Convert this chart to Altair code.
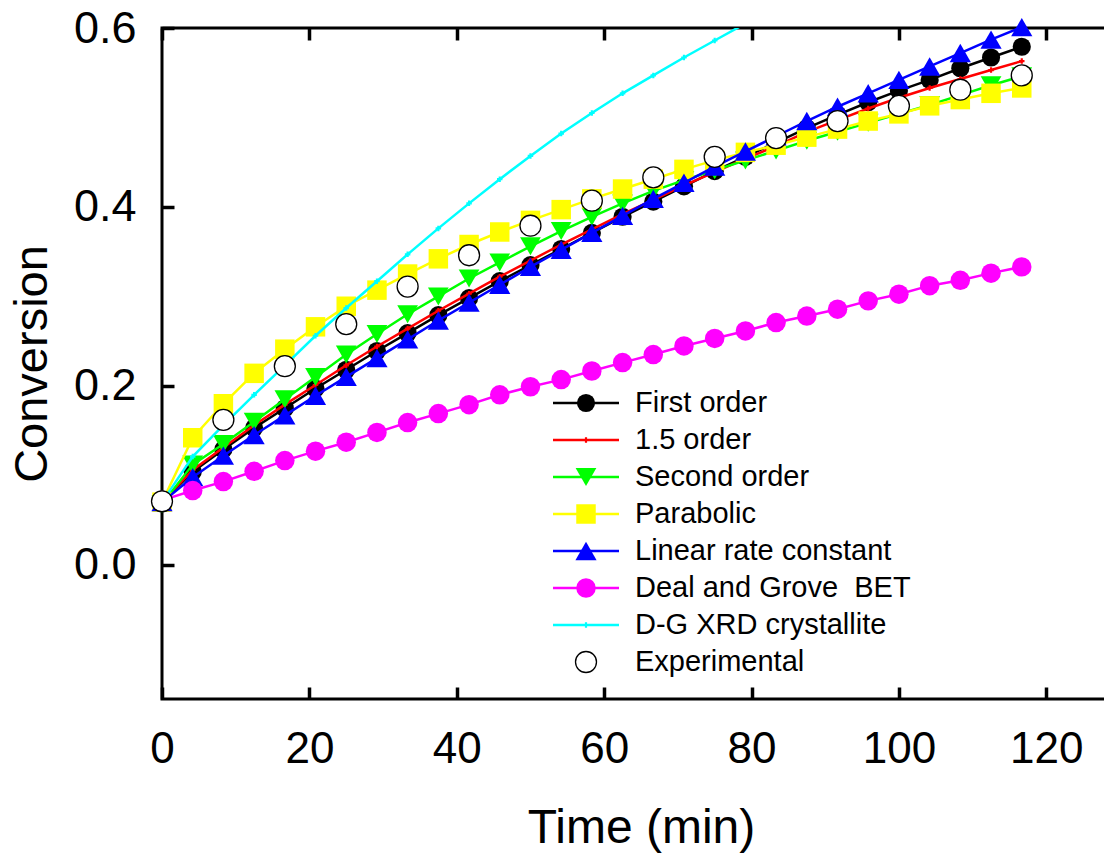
import altair as alt
import pandas as pd

# ---------------- data ----------------
TIME = [0, 4.17, 8.33, 12.5, 16.67, 20.83, 25, 29.17, 33.33, 37.5, 41.67, 45.83,
        50, 54.17, 58.33, 62.5, 66.67, 70.83, 75, 79.17, 83.33, 87.5, 91.67,
        95.83, 100, 104.17, 108.33, 112.5, 116.67]

FIRST_ORDER = [0.070, 0.104, 0.129, 0.153, 0.175, 0.197, 0.218, 0.239, 0.259, 0.279,
               0.298, 0.317, 0.335, 0.353, 0.371, 0.389, 0.406, 0.423, 0.440, 0.456,
               0.472, 0.488, 0.503, 0.517, 0.530, 0.542, 0.555, 0.567, 0.579]
ORDER_15 = [0.070, 0.106, 0.131, 0.156, 0.179, 0.201, 0.223, 0.244, 0.264, 0.284,
            0.303, 0.322, 0.340, 0.358, 0.375, 0.392, 0.408, 0.424, 0.439, 0.454,
            0.468, 0.484, 0.497, 0.510, 0.522, 0.533, 0.543, 0.553, 0.563]
SECOND_ORDER = [0.068, 0.112, 0.135, 0.160, 0.185, 0.210, 0.235, 0.258, 0.280, 0.300,
                0.320, 0.338, 0.356, 0.373, 0.389, 0.404, 0.418, 0.430, 0.441, 0.452,
                0.463, 0.474, 0.484, 0.494, 0.504, 0.514, 0.525, 0.536, 0.546]
PARABOLIC = [0.070, 0.142, 0.180, 0.214, 0.241, 0.266, 0.289, 0.307, 0.325, 0.342,
             0.358, 0.372, 0.385, 0.397, 0.409, 0.420, 0.431, 0.442, 0.452, 0.461,
             0.469, 0.478, 0.487, 0.496, 0.504, 0.513, 0.520, 0.527, 0.533]
LINEAR = [0.070, 0.098, 0.122, 0.145, 0.167, 0.189, 0.210, 0.231, 0.252, 0.273,
          0.293, 0.313, 0.333, 0.352, 0.371, 0.390, 0.409, 0.427, 0.445, 0.462,
          0.479, 0.496, 0.512, 0.527, 0.542, 0.557, 0.572, 0.587, 0.601]
DG_BET = [0.072, 0.083, 0.093, 0.1045, 0.1165, 0.127, 0.137, 0.148, 0.159, 0.169,
          0.179, 0.190, 0.199, 0.207, 0.2166, 0.226, 0.235, 0.2446, 0.253, 0.2614,
          0.2708, 0.278, 0.2857, 0.295, 0.3025, 0.312, 0.318, 0.326, 0.333]
DG_XRD = [0.070, 0.121, 0.156, 0.190, 0.223, 0.256, 0.287, 0.317, 0.347, 0.376,
          0.404, 0.431, 0.457, 0.482, 0.505, 0.527, 0.547, 0.567, 0.586, 0.605]

EXP_TIME = [0, 8.33, 16.67, 25, 33.33, 41.67, 50, 58.33, 66.67, 75, 83.33, 91.67,
            100, 108.33, 116.67]
EXPERIMENTAL = [0.071, 0.162, 0.222, 0.269, 0.311, 0.346, 0.379, 0.407, 0.433, 0.456,
                0.477, 0.496, 0.513, 0.531, 0.547]

X_TICKS = [0, 20, 40, 60, 80, 100, 120]
Y_TICKS = [0.0, 0.2, 0.4, 0.6]
X_MIN, X_MAX = 0, 130
Y_MIN, Y_MAX = -0.15, 0.6

SERIES = [
    # name, times, values, color, shape, size
    ("First order", TIME, FIRST_ORDER, "#000000", "circle", 330),
    ("1.5 order", TIME, ORDER_15, "#FF0000", "cross", 30),
    ("Second order", TIME, SECOND_ORDER, "#00FF00", "triangle-down", 430),
    ("Parabolic", TIME, PARABOLIC, "#FFFF00", "square", 380),
    ("Linear rate constant", TIME, LINEAR, "#0000FF", "triangle-up", 450),
    ("Deal and Grove\u00a0 BET", TIME, DG_BET, "#FF00FF", "circle", 380),
    ("D-G XRD crystallite", TIME[:len(DG_XRD)], DG_XRD, "#00FFFF", "cross", 30),
]

# ---------------- layout / style ----------------
W, H = 958, 671
FONT = "Liberation Sans, Arial, sans-serif"
TL = 12  # inner tick length

x_scale = alt.Scale(domain=[X_MIN, X_MAX], nice=False, zero=False)
y_scale = alt.Scale(domain=[Y_MIN, Y_MAX], nice=False, zero=False)

tick_kw = dict(ticks=True, tickSize=TL, tickWidth=3.5, tickColor="#000000", tickOpacity=1,
               grid=False, domain=False)

x_axis = alt.Axis(values=X_TICKS, title="Time (min)", offset=-TL, **tick_kw,
                  labelFont=FONT, labelFontSize=44, labelPadding=28, labelColor="black",
                  labelFlush=False, labelOverlap=False,
                  titleFont=FONT, titleFontSize=48, titleFontWeight="normal", titleColor="black",
                  titleY=143 + TL, titleBaseline="alphabetic", zindex=1)
y_axis = alt.Axis(values=Y_TICKS, format=".1f", title="Conversion", offset=-TL, **tick_kw,
                  labelFont=FONT, labelFontSize=45, labelPadding=26,
                  labelColor="black", labelFlush=False, labelOverlap=False,
                  titleFont=FONT, titleFontSize=47, titleFontWeight="normal", titleColor="black",
                  titleAngle=270, titleBaseline="middle", titleAlign="center",
                  titleX=-130 - TL, titleY=H / 2, zindex=1)
x_top_axis = alt.Axis(orient="top", values=X_TICKS, offset=-TL, labels=False, title=None,
                      zindex=1, **tick_kw)
y_right_axis = alt.Axis(orient="right", values=Y_TICKS, offset=-TL, labels=False, title=None,
                        zindex=1, **tick_kw)


def xe(field, axis=None):
    return alt.X(f"{field}:Q", scale=x_scale, axis=axis)


def ye(field, axis=None):
    return alt.Y(f"{field}:Q", scale=y_scale, axis=axis)


layers = []

# series
for i, (name, times, vals, color, shape, size) in enumerate(SERIES):
    df = pd.DataFrame({"t": times, "v": vals})
    clip = name.startswith("D-G")
    if i == 0:
        enc = dict(x=xe("t", x_axis), y=ye("v", y_axis))
    else:
        enc = dict(x=xe("t"), y=ye("v"))
    layers.append(alt.Chart(df).mark_line(color=color, strokeWidth=2.5, clip=clip).encode(**enc))
    layers.append(alt.Chart(df).mark_point(shape=shape, size=size, filled=True, color=color,
                                           opacity=1, clip=clip)
                  .encode(x=xe("t"), y=ye("v")))

exp_df = pd.DataFrame({"t": EXP_TIME, "v": EXPERIMENTAL})
layers.append(alt.Chart(exp_df).mark_point(shape="circle", size=440, filled=True, fill="white",
                                           stroke="black", strokeWidth=1.3, opacity=1)
              .encode(x=xe("t"), y=ye("v")))

# invisible layer that carries the top / right tick axes of the frame
layers.append(alt.Chart(exp_df).mark_point(opacity=0)
              .encode(x=xe("t", x_top_axis), y=ye("v", y_right_axis)))

# manual legend
LEG_X0, LEG_X1, LEG_XM, LEG_XT = 391, 457, 424, 473
LEG_Y0, LEG_DY = 375, 37
legend_items = [(s[0], s[3], s[4], s[5]) for s in SERIES]
for i, (name, color, shape, size) in enumerate(legend_items + [("Experimental", None, "circle", 440)]):
    yy = LEG_Y0 + LEG_DY * i
    d = pd.DataFrame({"label": [name]})
    if color is not None:
        layers.append(alt.Chart(d).mark_rule(color=color, strokeWidth=2.5)
                      .encode(x=alt.value(LEG_X0), x2=alt.value(LEG_X1), y=alt.value(yy)))
        layers.append(alt.Chart(d).mark_point(shape=shape, size=size, filled=True, color=color, opacity=1)
                      .encode(x=alt.value(LEG_XM), y=alt.value(yy)))
    else:
        layers.append(alt.Chart(d).mark_point(shape="circle", size=size, filled=True, fill="white",
                                              stroke="black", strokeWidth=1.3, opacity=1)
                      .encode(x=alt.value(LEG_XM), y=alt.value(yy)))
    layers.append(alt.Chart(d).mark_text(align="left", baseline="middle", font=FONT, fontSize=29,
                                         color="black")
                  .encode(x=alt.value(LEG_XT), y=alt.value(yy), text="label:N"))

chart = (
    alt.layer(*layers)
    .resolve_axis(x="independent", y="independent")
    .properties(width=W, height=H, autosize=alt.AutoSizeParams(type="none"),
                padding={"left": 154, "top": 20, "right": -16, "bottom": 160},
                background="white")
    .configure_view(stroke="black", strokeWidth=3)
)

chart.save("out.html", embed_options={"renderer": "svg", "actions": False})
